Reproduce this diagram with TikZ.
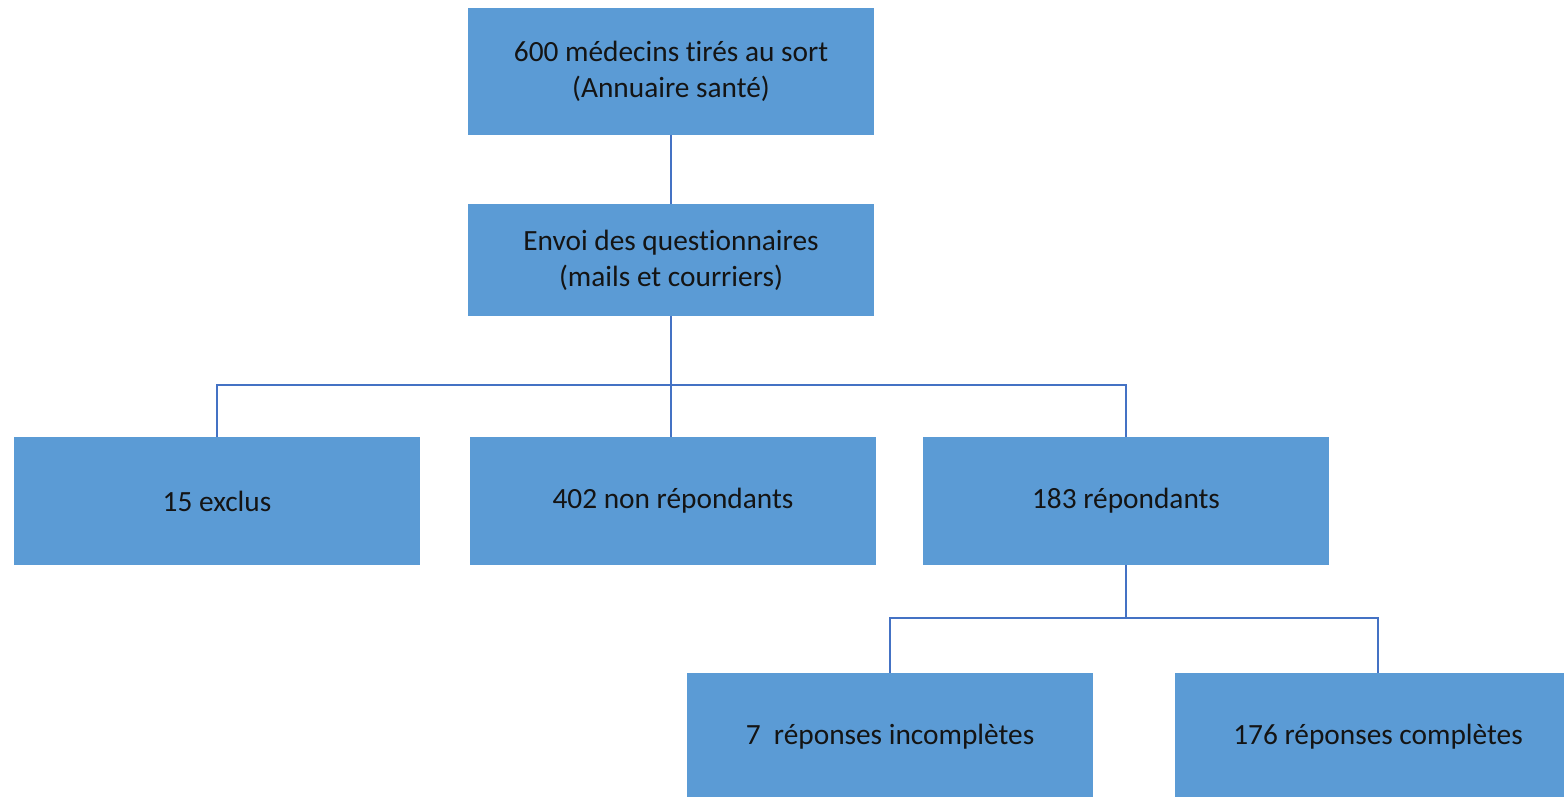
\documentclass[tikz,border=0pt]{standalone}
\usepackage{fontspec}
\setmainfont{Carlito}[Ligatures=NoCommon]
\usepackage{xcolor}
\usepackage{tikz}
\usetikzlibrary{positioning}
\definecolor{fcBox}{HTML}{5B9BD5}
\definecolor{fcLine}{HTML}{4472C4}
\definecolor{fcInk}{HTML}{141414}

\begin{document}
\begin{tikzpicture}[x=0.02cm,y=-0.02cm,
 stage/.style={fill=fcBox,draw=none,minimum width=8.12cm,minimum height=2.56cm,
  align=center,text=fcInk,font=\fontsize{16.7}{20.5}\selectfont,inner sep=0pt},
 link/.style={fcLine,line width=0.9pt}]
\clip (0,0) rectangle (1564,796);
\node[stage,minimum height=2.54cm] (tirage) at (671,71.5) {600 médecins tirés au sort\\(Annuaire santé)};
\node[stage,minimum height=2.24cm] (envoi) at (671,260) {Envoi des questionnaires\\(mails et courriers)};
\node[stage] (exclus) at (217,501) {15 exclus};
\node[stage] (nonrep) at (673,501) {402 non répondants};
\node[stage] (rep) at (1126,501) {183 répondants};
\node[stage] (incomp) at (890,737) {7~ réponses incomplètes};
\node[stage] (comp) at (1378,737) {176 réponses complètes};
\coordinate (bus) at (672,385);
\coordinate (bus2) at (1126,618);
\draw[link] (tirage.south) -- (envoi.north);
\draw[link] (envoi.south) -- (envoi.south |- nonrep.north);
\draw[link] (exclus.north) |- (bus) -| (rep.north);
\draw[link] (rep.south) -- (bus2);
\draw[link] (incomp.north) |- (bus2) -| (comp.north);
\end{tikzpicture}
\end{document}
